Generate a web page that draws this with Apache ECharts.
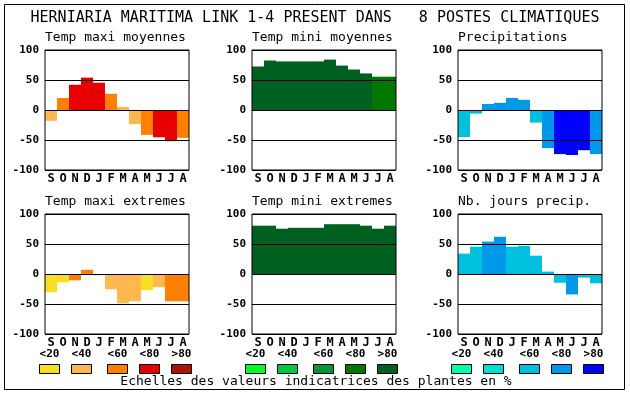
<!DOCTYPE html>
<html><head><meta charset="utf-8">
<script src="https://cdn.jsdelivr.net/npm/echarts@6/dist/echarts.min.js"></script>
<style>html,body{margin:0;padding:0;background:#fff}#c{width:630px;height:394px}</style>
</head><body><div id="c"></div>
<script>
const months = ['S','O','N','D','J','F','M','A','M','J','J','A'];
const yTicks = [-100, -50, 0, 50, 100];
const classLabels = ['<20','<40','<60','<80','>80'];
const mainTitle = 'HERNIARIA MARITIMA LINK 1-4 PRESENT DANS   8 POSTES CLIMATIQUES';
const footer = 'Echelles des valeurs indicatrices des plantes en %';

const warmColors = ['#f8e020','#ffb850','#ff8000','#e80000','#b01000'];
const greenColors = ['#00ff20','#00c840','#009830','#007800','#006020'];
const blueColors = ['#00ffb0','#00e0d0','#00c0e0','#0098e8','#0000ff'];

const panelTitles = ['Temp maxi moyennes','Temp mini moyennes','Precipitations','Temp maxi extremes','Temp mini extremes','Nb. jours precip.'];

const tmaxMoy = [-18,20,42,54,45.5,27,5,-23.5,-41.5,-45.5,-52,-46.5];
const tmaxMoyLvl = [1,2,3,3,3,2,1,1,2,3,3,2];
const tminMoy = [72.5,82.5,81,81,81,81,84,74,67.5,61,55.5,55.5];
const tminMoyLvl = [4,4,4,4,4,4,4,4,4,4,3,3];
const precip = [-45,-6,10,12,20,17,-21,-63.5,-73.5,-75,-67,-73.5];
const precipLvl = [2,2,3,3,3,3,2,3,4,4,4,3];
const tmaxExt = [-30.5,-14,-10.5,7,-2,-25.5,-49,-45.5,-27,-22,-45.5,-45.5];
const tmaxExtLvl = [0,0,2,2,2,1,1,1,0,1,2,2];
const tminExt = [80.5,80.5,75.5,77,77,77,83,83,83,80.5,75.5,80.5];
const tminExtLvl = [4,4,4,4,4,4,4,4,4,4,4,4];
const nbJours = [34,45.5,54,62,45.5,47,30.5,4,-14.5,-34,-6,-15.5];
const nbJoursLvl = [2,2,3,3,2,2,2,2,2,3,2,2];

const panels = [
  {v:tmaxMoy, l:tmaxMoyLvl, pal:warmColors},
  {v:tminMoy, l:tminMoyLvl, pal:greenColors},
  {v:precip, l:precipLvl, pal:blueColors},
  {v:tmaxExt, l:tmaxExtLvl, pal:warmColors},
  {v:tminExt, l:tminExtLvl, pal:greenColors},
  {v:nbJours, l:nbJoursLvl, pal:blueColors}
];
const lefts = [45, 252, 458];
const tops = [50, 214];
const PW = 144, PH = 120;
const mono = '"DejaVu Sans Mono", "Liberation Mono", monospace';

const grid = [], xAxis = [], yAxis = [], series = [], graphic = [];
panels.forEach((p, i) => {
  const col = i % 3, row = Math.floor(i / 3);
  const L = lefts[col], T = tops[row];
  grid.push({left: L, top: T, width: PW, height: PH, show: true, borderColor: '#000', borderWidth: 1, backgroundColor: 'transparent', z: 10});
  xAxis.push({type: 'category', gridIndex: i, data: months, axisLine: {show: false}, axisTick: {show: false},
    axisLabel: {interval: 0, margin: 3, color: '#000', fontFamily: mono, fontWeight: 'bold', fontSize: 12}});
  yAxis.push({type: 'value', gridIndex: i, min: yTicks[0], max: yTicks[yTicks.length-1], interval: 50, z: 6,
    axisLine: {show: false}, axisTick: {show: false},
    axisLabel: {margin: 6, color: '#000', fontFamily: mono, fontWeight: 'bold', fontSize: 11},
    splitLine: {show: true, lineStyle: {color: '#000', width: 1}}});
  series.push({type: 'bar', xAxisIndex: i, yAxisIndex: i, barWidth: '100%', barGap: '0%', barCategoryGap: '0%',
    data: p.v.map((v, k) => ({value: v, itemStyle: {color: p.pal[p.l[k]]}})), animation: false});
  graphic.push({type: 'text', left: L, top: T - 19, style: {text: panelTitles[i], font: '13px ' + mono, fill: '#000'}});
});

// legend boxes
const groupPal = [warmColors, greenColors, blueColors];
const boxStarts = [[39,71,107,139,171],[245,277,313,345,377],[451,483,519,551,583]];
groupPal.forEach((pal, g) => {
  pal.forEach((c, k) => {
    const x = boxStarts[g][k];
    graphic.push({type: 'rect', shape: {x: x + 0.5, y: 364.5, width: 20, height: 9}, style: {fill: c, stroke: '#000', lineWidth: 1}});
    graphic.push({type: 'text', x: x + 10.5, y: 354, style: {text: classLabels[k], font: 'bold 11px ' + mono, fill: '#000', align: 'center', verticalAlign: 'middle'}});
  });
});
graphic.push({type: 'text', x: 315, y: 18, style: {text: mainTitle, font: '15px ' + mono, fill: '#000', align: 'center', verticalAlign: 'middle'}});
graphic.push({type: 'text', x: 316, y: 382, style: {text: footer, font: '13px ' + mono, fill: '#000', align: 'center', verticalAlign: 'middle'}});
graphic.push({type: 'rect', shape: {x: 4.5, y: 4.5, width: 620, height: 385}, style: {fill: 'none', stroke: '#000', lineWidth: 1}, z: -1});

const chart = echarts.init(document.getElementById('c'), null, {renderer: 'canvas'});
chart.setOption({animation: false, backgroundColor: '#fff', grid, xAxis, yAxis, series, graphic});
</script></body></html>
